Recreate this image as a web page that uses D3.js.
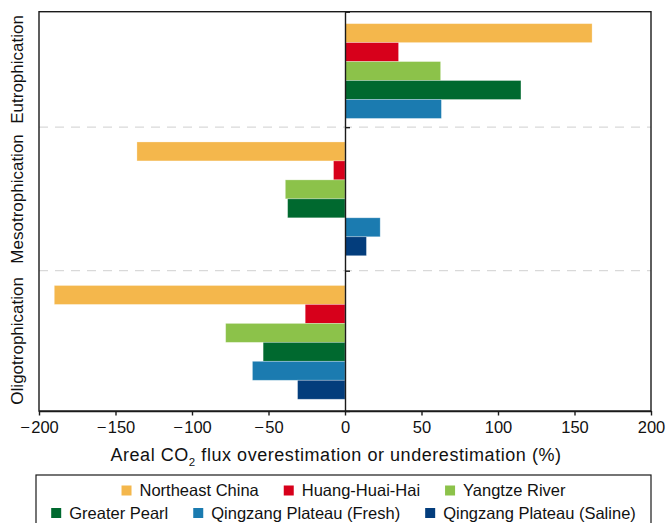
<html><head>
<meta charset="UTF-8">
<script src="https://cdn.jsdelivr.net/npm/d3@7"></script>
<style>
  body { margin: 0; background: #fff; }
  svg { display: block; font-family: "Liberation Sans", Arial, sans-serif; }
</style>
</head>
<body>
<div id="chart"></div>
<script>
  // categories and series
  const groups = ["Eutrophication", "Mesotrophication", "Oligotrophication"];
  const regions = ["Northeast China", "Huang-Huai-Hai", "Yangtze River",
                   "Greater Pearl", "Qingzang Plateau (Fresh)", "Qingzang Plateau (Saline)"];
  const colors = ["#f4b74c", "#d7001b", "#8cc24a", "#00692f", "#1b7bb0", "#033d7c"];

  // values per group, null = no bar for that region
  const eutroValues = [161.5, 35, 62.5, 115, 63, null];
  const mesoValues = [-136, -7.5, -39, -37.5, 23, 14];
  const oligoValues = [-190, -26, -78, -53.5, -60.5, -31];
  const groupValues = [eutroValues, mesoValues, oligoValues];

  const xTicks = [-200, -150, -100, -50, 0, 50, 100, 150, 200];

  const width = 671, height = 523;
  const plotL = 39, plotR = 651, plotT = 11.7, plotB = 411;

  const svg = d3.select("#chart").append("svg")
    .attr("width", width).attr("height", height);

  const x = d3.scaleLinear().domain([-200, 200]).range([plotL, plotR]);

  // lay out bar slots: padding above / below each group, in bar heights
  const pads = [[0.63, 0.46], [0.78, 0.79], [0.78, 0.62]];
  let slot = 0;
  const bars = [], bounds = [0], centers = [];
  groupValues.forEach((vals, gi) => {
    const start = slot;
    slot += pads[gi][0];
    vals.forEach((v, ri) => {
      if (v === null) return;
      bars.push({ group: gi, region: ri, value: v, slot: slot });
      slot += 1;
    });
    slot += pads[gi][1];
    bounds.push(slot);
    centers.push((start + slot) / 2);
  });
  const y = d3.scaleLinear().domain([0, slot]).range([plotT, plotB]);

  // dashed dividers between groups
  svg.selectAll("line.div").data(bounds.slice(1, -1)).enter().append("line")
    .attr("class", "div")
    .attr("x1", plotL).attr("x2", plotR)
    .attr("y1", d => y(d)).attr("y2", d => y(d))
    .attr("stroke", "#d9d9d9").attr("stroke-width", 1.3)
    .attr("stroke-dasharray", "9,7");

  // bars
  svg.selectAll("rect.bar").data(bars).enter().append("rect")
    .attr("class", "bar")
    .attr("x", d => x(Math.min(0, d.value)))
    .attr("width", d => Math.abs(x(d.value) - x(0)))
    .attr("y", d => y(d.slot))
    .attr("height", d => y(d.slot + 1) - y(d.slot))
    .attr("fill", d => colors[d.region])
    .attr("stroke", "#fff").attr("stroke-opacity", 0.35).attr("stroke-width", 0.8);

  // frame
  svg.append("rect")
    .attr("x", plotL).attr("y", plotT)
    .attr("width", plotR - plotL).attr("height", plotB - plotT)
    .attr("fill", "none").attr("stroke", "#1a1a1a").attr("stroke-width", 1.4);

  // zero line with group ticks
  const yAxis = svg.append("g")
    .attr("transform", `translate(${x(0)},0)`)
    .call(d3.axisRight(y).tickValues(bounds).tickFormat("").tickSize(5).tickSizeOuter(0));
  yAxis.selectAll("path, line").attr("stroke", "#1a1a1a").attr("stroke-width", 1.4);

  // x axis
  const xAxis = svg.append("g")
    .attr("transform", `translate(0,${plotB})`)
    .call(d3.axisBottom(x).tickValues(xTicks).tickSize(4.5).tickSizeOuter(0).tickPadding(6)
      .tickFormat(d => d < 0 ? "\u2212\u200a" + Math.abs(d) : String(d)));
  xAxis.selectAll("path, line").attr("stroke", "#1a1a1a").attr("stroke-width", 1.4);
  xAxis.selectAll("text").attr("font-size", 16.5).attr("fill", "#111")
    .attr("font-family", "'Liberation Sans', Arial, sans-serif");

  // group labels
  svg.selectAll("text.glabel").data(groups).enter().append("text")
    .attr("class", "glabel")
    .attr("transform", (d, i) => `translate(23,${y(centers[i])}) rotate(-90)`)
    .attr("text-anchor", "middle")
    .attr("font-size", 17).attr("fill", "#111")
    .text(d => d);

  // x title
  const title = svg.append("text")
    .attr("x", 336).attr("y", 461)
    .attr("text-anchor", "middle")
    .attr("font-size", 18).attr("letter-spacing", 0.55).attr("fill", "#111");
  title.append("tspan").text("Areal CO");
  title.append("tspan").attr("font-size", 11.5).attr("dy", 5).text("2");
  title.append("tspan").attr("dy", -5).text(" flux overestimation or underestimation (%)");

  // legend
  svg.append("rect")
    .attr("x", 36).attr("y", 475).attr("width", 615).attr("height", 80)
    .attr("fill", "none").attr("stroke", "#1a1a1a").attr("stroke-width", 1.2);

  const legendRows = [[0, 1, 2], [3, 4, 5]];
  const rowY = [490.5, 513];
  const legendCx = 343.5;
  legendRows.forEach((row, ri) => {
    const g = svg.append("g");
    let cx = 0;
    row.forEach((idx, k) => {
      g.append("rect")
        .attr("x", cx).attr("y", rowY[ri] - 5).attr("width", 10).attr("height", 10)
        .attr("fill", colors[idx]);
      const t = g.append("text")
        .attr("x", cx + 18).attr("y", rowY[ri] + 5.5)
        .attr("font-size", 16.5).attr("fill", "#111")
        .text(regions[idx]);
      cx += 18 + t.node().getComputedTextLength() + 25;
    });
    const w = cx - 25;
    g.attr("transform", `translate(${legendCx - w / 2},0)`);
  });
</script>
</body>
</html>
